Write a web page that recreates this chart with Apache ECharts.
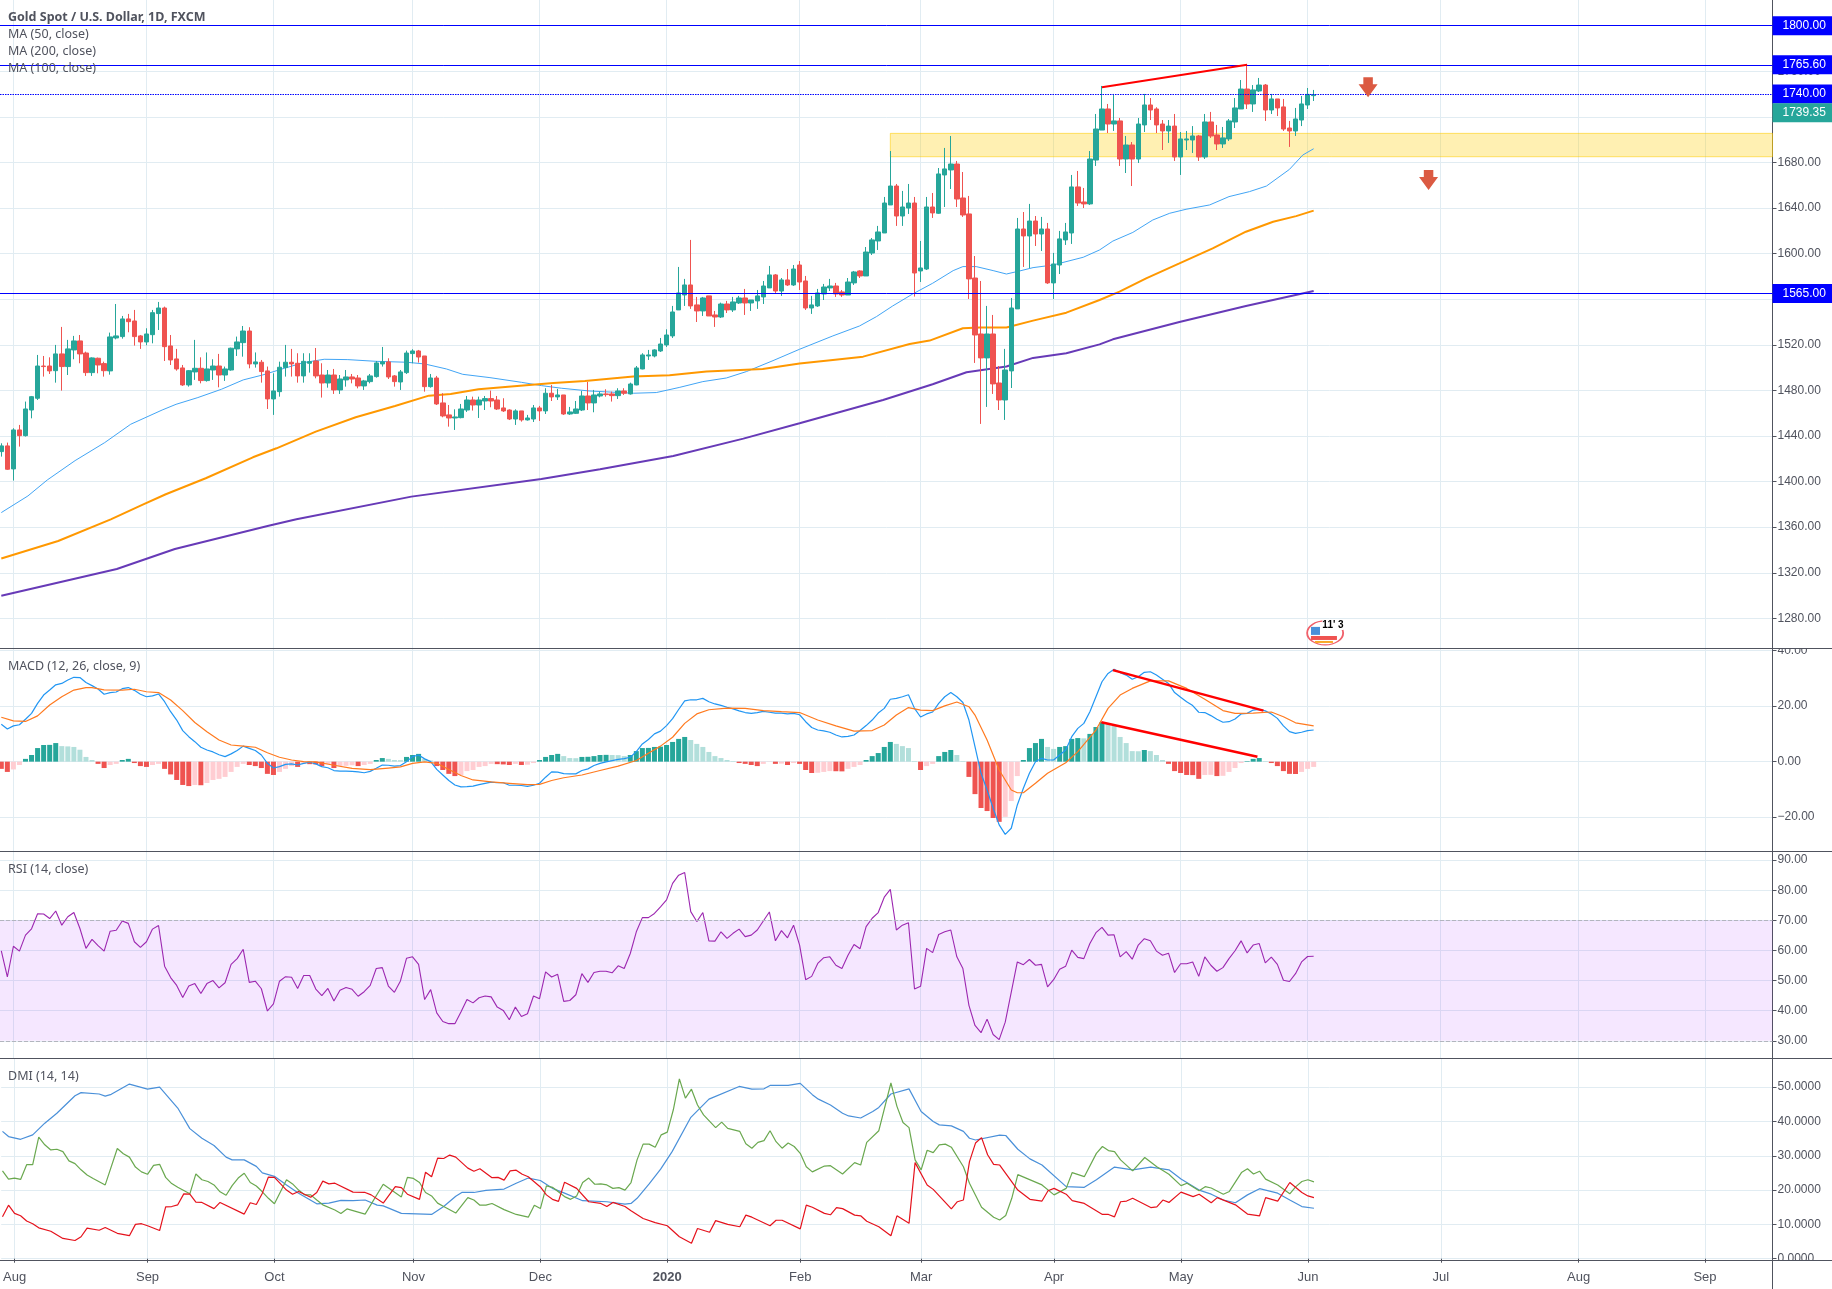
<!DOCTYPE html>
<html>
<head>
<meta charset="utf-8">
<title>Gold Spot / U.S. Dollar</title>
<script src="https://cdn.jsdelivr.net/npm/echarts@6/dist/echarts.min.js"></script>
<style>
html, body { margin: 0; padding: 0; background: #fff; }
#chart { width: 1832px; height: 1289px; }
</style>
</head>
<body>
<div id="chart"></div>
<script>
// x runs in trading bars: bar 0 is the first candle, bar 217 the last (2 Jun)
const monthTicks = [2, 24, 45, 68, 89, 110, 132, 152, 174, 195, 216, 238, 260.8, 281.7];
const monthNames = ['Aug', 'Sep', 'Oct', 'Nov', 'Dec', '2020', 'Feb', 'Mar', 'Apr', 'May', 'Jun', 'Jul', 'Aug', 'Sep'];

const priceTicks = [1280, 1320, 1360, 1400, 1440, 1480, 1520, 1560, 1600, 1640, 1680, 1720, 1760, 1800];
const macdTicks = [-20, 0, 20, 40];
const rsiTicks = [30, 40, 50, 60, 70, 80, 90];
const dmiTicks = [0, 10, 20, 30, 40, 50];

// open, close, low, high
const candles = [
[1426.3,1431.3,1421.9,1433.6],[1431.3,1410.8,1410.2,1434.2],[1411.1,1445.3,1400.9,1446.8],[1445.3,1440.3,1430.7,1449.7],[1440.3,1463.7,1439.5,1470.2],
[1462.8,1474.5,1455.5,1475.1],[1473.1,1501.4,1471.6,1511.1],[1501.4,1500.9,1492.1,1510.2],[1501.4,1497.1,1494.4,1509.0],[1497.3,1512.0,1486.8,1519.9],
[1512.0,1500.9,1479.8,1535.7],[1500.9,1516.4,1493.5,1524.3],[1515.5,1523.4,1507.3,1527.8],[1523.4,1512.0,1503.8,1528.6],[1512.8,1495.6,1492.7,1514.0],
[1495.6,1508.5,1492.7,1509.0],[1508.2,1502.3,1495.0,1508.8],[1503.5,1497.3,1492.1,1505.2],[1497.1,1526.9,1493.8,1530.7],[1526.0,1527.8,1524.8,1555.8],
[1527.2,1542.7,1525.4,1545.3],[1542.7,1540.3,1531.0,1547.1],[1540.9,1527.2,1519.3,1550.6],[1527.8,1522.5,1516.4,1528.6],[1522.5,1529.5,1519.6,1534.5],
[1528.9,1548.2,1521.3,1550.6],[1547.4,1552.3,1533.0,1557.6],[1552.3,1518.4,1505.8,1553.5],[1519.0,1506.7,1502.3,1528.6],[1507.6,1498.8,1497.3,1516.4],
[1499.7,1484.8,1483.9,1502.3],[1484.8,1497.3,1483.3,1497.9],[1496.2,1499.4,1489.2,1524.3],[1499.4,1488.6,1486.2,1509.0],[1488.6,1498.8,1487.7,1513.3],
[1497.9,1501.4,1489.2,1507.3],[1501.4,1493.5,1482.7,1512.0],[1493.5,1498.8,1488.3,1500.9],[1497.9,1517.0,1497.3,1517.5],[1516.4,1522.5,1510.2,1527.2],
[1521.9,1532.1,1509.6,1536.5],[1532.1,1503.2,1499.4,1535.4],[1503.2,1505.0,1500.0,1513.3],[1504.7,1496.5,1486.8,1506.7],[1497.1,1472.5,1463.7,1500.9],
[1472.5,1479.5,1458.5,1495.0],[1478.9,1500.3,1474.5,1505.2],[1500.0,1504.7,1492.1,1519.9],[1504.7,1503.2,1492.1,1516.4],[1503.8,1492.7,1486.8,1512.6],
[1492.7,1505.5,1486.8,1512.6],[1503.8,1505.2,1495.6,1512.6],[1505.8,1492.7,1490.6,1517.2],[1493.5,1486.5,1473.7,1503.8],[1486.5,1493.5,1482.4,1497.9],
[1493.5,1480.4,1476.9,1498.8],[1480.4,1490.0,1476.9,1493.5],[1489.2,1491.8,1483.3,1497.9],[1491.8,1490.0,1486.2,1494.4],[1490.9,1483.9,1481.8,1493.5],
[1483.9,1488.3,1480.4,1489.2],[1487.7,1492.7,1486.2,1494.4],[1492.1,1504.1,1491.2,1505.8],[1503.2,1505.0,1500.9,1518.1],[1505.0,1491.8,1490.0,1508.2],
[1492.7,1487.7,1483.3,1493.5],[1487.4,1496.2,1480.4,1497.9],[1495.6,1512.8,1494.4,1514.9],[1512.3,1514.6,1503.8,1516.1],[1514.6,1509.3,1504.4,1515.5],
[1510.2,1483.3,1478.9,1510.2],[1483.3,1490.9,1482.4,1494.4],[1490.9,1468.1,1467.2,1492.7],[1469.0,1457.6,1456.4,1477.5],[1458.5,1455.8,1448.2,1467.2],
[1455.8,1456.7,1445.3,1463.4],[1456.1,1463.7,1455.5,1468.1],[1462.8,1471.6,1461.1,1475.1],[1471.6,1467.2,1462.3,1474.5],[1467.2,1471.6,1455.8,1474.5],
[1470.7,1472.8,1462.8,1475.1],[1472.8,1470.7,1465.2,1479.8],[1471.6,1463.7,1462.8,1475.1],[1464.6,1462.0,1461.1,1473.1],[1462.8,1454.9,1454.0,1463.4],
[1454.9,1462.0,1449.7,1463.4],[1462.0,1454.1,1452.6,1462.0],[1454.1,1455.8,1453.5,1458.5],[1454.9,1464.6,1452.3,1467.2],[1464.6,1462.0,1453.2,1466.4],
[1462.0,1477.5,1459.3,1481.9],[1477.5,1474.3,1470.7,1484.8],[1474.3,1476.0,1471.6,1481.3],[1476.0,1459.3,1458.5,1476.0],[1459.3,1461.1,1458.5,1465.5],
[1459.9,1463.7,1459.3,1470.7],[1462.8,1475.1,1461.9,1479.5],[1475.1,1469.0,1462.8,1487.4],[1469.0,1476.0,1460.8,1480.4],[1475.1,1476.9,1473.9,1478.9],
[1476.9,1476.3,1474.5,1481.0],[1476.9,1475.4,1470.2,1478.9],[1475.4,1479.5,1472.5,1481.9],[1479.5,1477.5,1476.0,1481.9],[1476.9,1485.6,1476.3,1486.8],
[1484.8,1499.7,1484.5,1501.4],[1498.8,1511.1,1498.5,1512.6],[1510.2,1511.1,1506.7,1515.5],[1510.2,1515.5,1509.0,1516.1],[1514.6,1520.7,1513.7,1526.0],
[1519.9,1528.6,1518.1,1533.6],[1527.8,1548.8,1526.0,1554.1],[1550.6,1565.5,1550.6,1588.3],[1563.7,1572.5,1554.1,1577.8],[1572.5,1554.1,1551.5,1612.0],
[1555.0,1549.7,1540.0,1562.0],[1549.7,1561.1,1545.3,1562.0],[1562.9,1545.3,1545.3,1562.9],[1546.2,1544.4,1535.7,1549.7],[1544.4,1555.8,1543.5,1557.0],
[1555.8,1550.6,1547.9,1558.5],[1550.6,1557.6,1548.8,1562.0],[1556.7,1561.1,1555.8,1562.9],[1561.1,1556.7,1546.2,1569.0],[1556.7,1559.3,1549.7,1559.3],
[1558.5,1562.9,1551.5,1568.1],[1562.0,1571.6,1555.8,1576.0],[1569.9,1581.3,1569.9,1589.2],[1581.3,1567.2,1565.5,1582.1],[1567.2,1576.9,1562.9,1578.6],
[1576.9,1572.5,1571.6,1586.5],[1572.5,1586.5,1571.6,1590.0],[1590.0,1575.1,1568.1,1593.5],[1576.0,1552.3,1550.6,1580.4],[1552.3,1555.0,1547.1,1562.9],
[1554.1,1565.5,1553.2,1569.0],[1564.6,1570.7,1559.3,1573.4],[1569.9,1571.6,1567.2,1577.8],[1571.6,1564.6,1562.0,1574.3],[1566.4,1563.7,1562.0,1568.1],
[1563.7,1575.1,1563.7,1578.6],[1574.3,1583.9,1572.5,1584.8],[1584.8,1580.4,1578.6,1585.4],[1580.4,1601.4,1580.4,1605.8],[1600.5,1612.0,1598.8,1613.7],
[1611.1,1619.0,1603.2,1624.3],[1618.1,1644.4,1618.1,1649.7],[1642.7,1659.3,1642.7,1690.0],[1659.3,1633.0,1624.3,1661.1],[1633.0,1640.9,1624.3,1655.0],
[1640.0,1644.4,1634.8,1661.1],[1644.4,1583.0,1562.3,1649.7],[1584.8,1587.4,1575.1,1611.1],[1586.5,1640.9,1585.6,1649.7],[1640.9,1635.7,1631.3,1653.2],
[1635.4,1669.9,1634.8,1675.1],[1669.0,1674.3,1640.9,1692.7],[1673.4,1678.6,1656.7,1703.2],[1678.6,1647.9,1640.9,1681.3],[1648.8,1633.9,1632.2,1671.6],
[1634.8,1577.8,1560.2,1650.6],[1578.6,1528.6,1504.1,1597.9],[1529.5,1508.5,1450.6,1576.0],[1508.5,1529.5,1465.5,1554.1],[1529.5,1485.7,1476.9,1546.2],
[1486.5,1471.6,1462.8,1501.4],[1471.6,1497.9,1454.1,1516.4],[1497.1,1552.3,1482.1,1561.1],[1551.5,1621.6,1551.5,1631.3],[1621.6,1615.5,1588.3,1636.5],
[1615.5,1628.6,1587.4,1643.6],[1628.6,1617.2,1606.7,1633.0],[1617.2,1621.6,1602.3,1632.2],[1621.6,1574.3,1573.4,1626.9],[1574.3,1590.9,1560.2,1600.6],
[1590.0,1612.9,1582.1,1619.9],[1612.0,1619.0,1607.6,1626.9],[1618.1,1658.5,1608.5,1669.0],[1658.5,1644.4,1641.8,1672.5],[1645.3,1643.6,1640.0,1657.6],
[1643.6,1683.0,1642.7,1690.0],[1682.1,1709.3,1676.9,1722.5],[1708.4,1726.9,1708.4,1747.1],[1726.9,1713.7,1705.8,1731.3],[1713.7,1716.4,1707.6,1740.1],
[1716.4,1683.0,1676.9,1719.0],[1683.0,1695.3,1670.7,1703.2],[1695.3,1683.0,1659.3,1697.9],[1683.0,1713.7,1679.5,1719.0],[1712.9,1730.4,1706.7,1740.1],
[1730.4,1726.0,1717.2,1736.5],[1726.9,1712.9,1705.8,1728.4],[1713.7,1707.6,1690.9,1717.2],[1707.6,1711.9,1697.1,1717.2],[1711.9,1684.8,1681.3,1722.5],
[1684.8,1700.6,1669.0,1706.7],[1699.7,1700.6,1690.9,1707.6],[1699.7,1703.2,1688.3,1711.9],[1703.2,1684.8,1681.3,1704.1],[1684.8,1715.5,1683.0,1722.5],
[1715.5,1703.2,1701.5,1724.3],[1704.1,1696.2,1690.9,1712.9],[1696.2,1701.5,1692.7,1711.1],[1700.6,1716.4,1698.8,1718.1],[1715.5,1727.8,1710.2,1736.5],
[1726.9,1744.4,1726.9,1752.3],[1744.4,1731.3,1726.9,1765.6],[1731.3,1743.6,1724.3,1747.9],[1742.7,1747.9,1741.8,1754.1],[1747.9,1726.0,1716.4,1748.8],
[1726.0,1735.7,1722.5,1740.1],[1735.7,1727.8,1720.7,1735.7],[1728.7,1709.3,1707.6,1735.7],[1710.2,1707.6,1693.6,1716.4],[1707.6,1718.1,1703.2,1727.8],
[1717.2,1731.3,1711.9,1738.3],[1730.4,1739.7,1726.9,1745.3],[1738.6,1739.35,1733.9,1743.6]
];

// moving averages as [bar, value]
const ma50 = [[0,1372.8],[4.4,1387.4],[7.6,1401.4],[12.2,1418.4],[17.1,1434.2],[21.4,1450.3],[26.6,1462.8],[28.9,1467.8],[32.5,1473.7],[36.4,1481],[40,1489.2],[43.2,1493.5],[46.8,1499.4],[50,1504.4],[53.4,1507.3],[57.3,1507],[62,1505.5],[67,1504.7],[70,1503.2],[73.6,1498.8],[76.3,1494.1],[80.8,1491.2],[86,1487.1],[89.3,1484.2],[92.6,1481.9],[97.2,1479.5],[104.5,1477.5],[108.3,1478.1],[112.2,1482.7],[116,1487.7],[119.9,1490.9],[123.2,1496.5],[127.6,1506.1],[132,1516.1],[137.5,1527.8],[141.9,1536.5],[144.7,1544.7],[147.4,1554.1],[150.7,1564.6],[154,1574],[157.4,1585.1],[159,1588.6],[161.2,1588.6],[164,1585.1],[166.2,1582.1],[168.4,1584.8],[170.6,1587.7],[173.9,1590],[178.9,1596.8],[181.6,1603.2],[183.8,1611],[187.1,1618.6],[190.4,1629.5],[193.2,1635.4],[195.9,1638.9],[199.8,1642.7],[203,1650],[206.4,1654.4],[209.2,1659.3],[213,1673.9],[215.2,1686.5],[217,1692]];
const ma100 = [[0,1332.5],[9.4,1347.9],[18.1,1366.9],[23.3,1379.5],[27.2,1388.9],[33.8,1402.9],[41.6,1421.3],[45.5,1429.2],[52,1443.8],[58.6,1456.4],[65.1,1466.3],[70.7,1475.4],[74.3,1476.9],[78.9,1481],[84.8,1483.6],[91.3,1486.5],[96.5,1488.3],[104.5,1492.1],[110.5,1493.3],[116.6,1496.5],[125.9,1498.8],[132,1503.5],[137.5,1506.7],[142.5,1509.6],[150.2,1520.7],[153.5,1523.7],[159,1534.5],[161.8,1535.1],[166.2,1535.1],[170.6,1541.2],[176.1,1548.2],[181.6,1559.3],[184.9,1566.6],[189.3,1578.3],[194.8,1591.4],[200.3,1604.6],[205.8,1619.2],[210.3,1628],[214.1,1632.9],[217,1637.7]];
const ma200 = [[0,1299.9],[19.1,1323.3],[28.7,1340.9],[44.2,1361.3],[48.8,1366.9],[67.8,1386.8],[89.3,1402.3],[99,1410.8],[111.1,1422.5],[122.7,1437.7],[132,1451.1],[145.8,1471.6],[154,1485.4],[159.6,1495.9],[166.2,1500.9],[170.6,1508.5],[176.1,1512.6],[181.6,1520.4],[183.8,1524.8],[194.8,1540],[205.8,1554.1],[217,1567.2]];

const macdLine = [
13.5,11.8,12.9,13.3,15.3,17.4,21,24,25.8,27.7,28.2,29.4,30.4,30.3,28.5,27.4,26.2,24.3,24.9,25.1,
26.3,26.7,25.7,24.3,23.4,23.7,24.4,21.6,18,15,11.2,9,7.2,5.2,4.2,3.5,2.5,1.8,2.8,4,
5.6,4.8,4,2.4,-0.6,-2.3,-1.8,-1,-0.8,-1.2,-0.6,-0.2,-0.8,-1.8,-2.2,-3.2,-3.4,-3.4,-3.5,-3.7,
-4,-3.5,-2.4,-1.2,-1.3,-1.6,-1.4,0,1.8,2.4,1,0,-2.8,-4.8,-6.8,-8.4,-9.1,-9,-8.8,-8.3,
-7.8,-7.4,-7.6,-7.6,-8.5,-8.5,-8.6,-8.9,-8.5,-7.8,-5.6,-3.7,-3.8,-4.3,-4.4,-4.4,-3.2,-2.6,-1.4,-0.6,
-0.1,0.4,0.8,1.1,1.6,3.6,6.4,8,10,11,13,15.5,18.8,21.9,22.3,22.3,22.8,21.6,20.8,20.3,
19.6,19,18.3,17.7,17.4,17.7,18.1,17.8,17.5,17.5,17.2,17.4,16.9,14.4,12.3,11.4,11.1,10.6,9.6,8.9,
9.1,9.6,11.2,13,15,17.5,19.2,22.5,22.8,23.4,24.1,19.2,16.1,17.2,17.9,21,23.4,24.9,23.4,21.3,
15,5.4,-4.2,-10.2,-16.8,-22.8,-26.2,-24,-15.6,-9.6,-4.2,0,1.2,0.6,0.6,2.4,4.2,9,12,13.8,
18,23.4,28.8,31.8,33.3,32.1,31.2,29.7,30.6,32.2,32.4,31.2,29.7,28.2,24.9,23.2,21.6,20.2,17.8,17.7,
16.6,15.3,14.2,14.4,15.4,17.2,17.4,18.6,18.8,18.3,17.2,15.6,12.9,10.8,10.2,10.6,11.2,11.4
];
const signalLine = [[0,16],[2,14.7],[4,14.5],[6,16.5],[8,20.4],[10,23.4],[12,25.8],[14,26.7],[15,26.7],[17,25.9],[20,25.8],[22,26.1],[24,25.2],[26,24.9],[28,22.2],[30,18.4],[32,14.1],[34,10.8],[36,7.8],[38,6],[40,5.6],[42,5.2],[44,3.2],[46,1.6],[48,0.6],[50,0],[52,-0.1],[55,-1.3],[58,-2.4],[61,-2.9],[64,-2.3],[66,-1.9],[68,-0.6],[70,-0.1],[72,-0.6],[74,-2.8],[76,-5],[78,-6.6],[81,-7.3],[84,-7.8],[87,-8.3],[89,-8.2],[91,-6.8],[93,-5.8],[96,-4.8],[99,-3.2],[102,-1.6],[105,0.4],[107,3],[109,5.6],[111,8.8],[113,13.8],[115,17.2],[117,18.7],[120,19.3],[123,19.2],[126,18.4],[129,18],[132,17.7],[135,15],[138,12.9],[141,11],[144,11.2],[146,13.2],[148,16.8],[150,19.5],[152,18.6],[154,18.4],[156,20.1],[158,21.5],[160,19.8],[161,16.8],[163,7.8],[165,-3],[167,-10.2],[168,-11.2],[169,-11.2],[171,-7.8],[173,-4.2],[176,-0.4],[178,3.6],[181,11.4],[183,19.2],[185,24],[187,26.4],[190,29.1],[193,29.1],[196,26.4],[199,22.5],[202,18.4],[204,17.4],[207,17.5],[210,17.9],[212,16.2],[214,14],[217,12.9]];
const macdHist = [
-2.6,-3.7,-2.8,-1.2,1.0,2.4,4.9,6.0,6.05,6.7,
5.6,5.5,5.3,4.3,1.7,0.6,-0.8,-2.3,-1.2,-0.8,
0.6,1.0,-0.5,-1.6,-1.9,-1.2,-0.8,-2.6,-4.6,-6.6,
-8.4,-8.8,-8.4,-8.5,-7.7,-6.6,-6.2,-5.5,-3.7,-1.9,
-0.8,-1.2,-1.6,-2.3,-4.4,-4.8,-3.7,-2.6,-1.6,-1.9,
-0.8,-0.9,-1.0,-1.6,-0.8,-2.3,-1.6,-1.5,-1.3,-1.6,
-1.2,-0.8,0.6,1.3,1.0,0.6,0.55,1.7,2.4,2.8,
1.0,0.4,-1.6,-3.0,-4.4,-5.2,-4.8,-3.4,-3.0,-1.9,
-1.6,-0.8,-0.9,-1.0,-1.2,-0.8,-1.2,-1.1,-0.5,0.6,
1.7,2.4,2.8,2.0,1.3,1.25,1.7,1.75,2.0,2.4,
2.45,2.4,2.35,2.0,2.4,3.8,4.9,4.95,5.3,5.4,
6.0,7.1,8.2,8.9,7.8,6.4,5.3,3.5,2.0,1.3,
0.6,0.2,-0.5,-0.8,-1.2,-1.6,-0.8,-0.1,-0.8,-0.7,
-1.2,-0.5,-0.8,-3.0,-4.1,-4.0,-3.7,-3.4,-3.45,-3.5,
-2.6,-1.9,-1.2,0.6,2.0,3.1,5.3,7.1,6.4,5.6,
4.9,0.2,-3.0,-1.6,-0.8,2.0,3.5,4.2,2.4,0.2,
-5.5,-11.7,-16.7,-17.8,-20.3,-21.7,-19.9,-14.2,-5.2,0.6,
4.9,6.7,8.2,5.3,4.6,5.3,5.6,8.2,8.5,8.4,
10,12.5,14.3,13.6,12.9,8.9,6.7,3.8,3.75,4.2,
3.8,2.4,0.6,-0.8,-3.4,-4.1,-4.8,-4.85,-6.2,-4.8,
-4.75,-5.2,-5.1,-3.7,-2.3,-0.5,0.2,1.0,1.3,0.2,
-0.5,-1.6,-3.4,-4.4,-4.45,-3.7,-2.6,-1.9
];

const rsi = [
59.9,51.2,61.4,59.8,65.1,67.2,72.2,72.1,70.6,73.1,68.4,71.2,72.6,67.3,60.7,63.7,61.6,59.8,66.4,66.7,
69.8,69,62.9,61,62.9,67.1,68.3,54.8,51,48.4,44.4,48.2,49,45.7,49,50,47.6,49.3,55.4,57.3,
60.4,49.4,49.8,47.3,39.9,42.3,49.8,51.3,51.1,47.4,51.7,51.7,47.2,45,47.4,43.2,46.8,47.7,47.1,44.8,
46.3,48.4,54,54.3,48.2,46.1,49.9,57.4,57.9,55.4,43.7,47,39.3,36.4,35.7,35.7,39.6,43.7,42.6,44.3,
44.9,44.6,41.2,40.1,37,41.2,38.1,39,44.9,44,52.9,51.2,52.1,43.1,43.4,45.3,52.3,49.4,52.7,53.1,
53.1,52.6,54.9,54,59,66.2,70.9,70.9,72.3,74.5,76.8,82.3,85,85.9,72.9,69.6,72.6,63.2,63.1,66.2,
64,65.7,67.1,64.6,65.1,66.8,69.8,72.8,63.2,66.6,64.2,68.4,61.8,50.3,51.4,55.7,57.6,57.9,55.1,54,
58.4,62,60.6,67.9,70.7,72.6,77.7,80.3,66.8,68.4,69.2,47.2,48.1,60.7,59.3,65.3,66.2,66.8,57.9,54,
41.8,35.1,32.7,37.2,32.1,30.4,36.2,46.2,56.2,55.3,57,55.1,55.4,47.9,50.3,53.8,54.8,60.1,57.7,57.3,
62.3,65.9,67.7,65.1,65.2,57.9,59.6,57.1,61.8,63.9,63.2,59.8,58.4,59.1,52.7,55.6,55.6,56.2,51.4,57.9,
55.1,53.1,54.3,57.3,59.9,63.2,59.2,61.8,62.3,55.9,57.8,55.4,50.1,49.7,52.3,56.2,58,58.1
];

// DMI lines as [bar, value]
const dmiBlue = [[0,37.1],[1,35.6],[3,34.8],[5,36.1],[7,39.5],[9,42.4],[12,47.5],[13,48.4],[16,48],[17,47.4],[18,47.9],[21,50.9],[24,49.4],[26,50],[29,43.9],[31,37.9],[33,35.1],[35,33],[37,29.6],[38,28.8],[40,28.8],[42,26.9],[43,25],[45,24],[47,21.5],[49,19.1],[52,16],[54,16.2],[56,17],[58,16.9],[60,17.1],[62,15.6],[63,15.4],[66,13.2],[71,12.9],[73,15.2],[75,18.2],[76,19.3],[78,19.3],[80,19.9],[83,20.3],[85,22],[87,23.5],[89,22.8],[91,20.5],[93,19.1],[96,16.9],[100,16.6],[103,15.9],[104,16.1],[105,17.6],[107,21.8],[108.9,26.1],[110.8,31.2],[113.9,41.2],[116.9,46.5],[121.9,50.2],[124,49.4],[126,49.5],[127,50.5],[130,50.5],[132,51.1],[134,47.8],[135,46.5],[137,44.8],[139,42.4],[140,41.6],[142,41],[144,42.9],[145,44.1],[147,48],[150,49.5],[152,42.9],[154,40],[155,39],[157,38.7],[159,37.1],[160,35.1],[161,34.6],[165,36],[166,35.9],[168,31.9],[170,29.1],[172,27.3],[176,21],[179,20.8],[181,23],[184,26.7],[187,25.9],[190,26.7],[193,25.9],[195,23.2],[198,20],[200,18.8],[202,17.1],[204,16.3],[206,18.6],[208,20.4],[211,19.1],[213,17.1],[215,15.2],[217,14.7]];
const dmiGreen = [[0,25.6],[1,23.2],[2,23.5],[3,23.1],[4,27.4],[5,27.4],[6,35.4],[7,33.2],[8,31.7],[9,31.9],[10,31.2],[11,28.5],[12,27.7],[13,25.9],[14,24.4],[15,23.4],[17,21.5],[19,32.1],[20,30.6],[21,29.6],[22,26.7],[23,25.3],[24,24.6],[25,27.2],[26,27.5],[27,23.7],[28,21.9],[29,20.8],[31,18.9],[32,24.7],[33,23],[34,22.5],[35,21.5],[36,19.5],[37,18.5],[38,21.3],[39,23.5],[40,24.9],[41,22.2],[42,21.2],[43,19.5],[44,17.6],[45,16],[46,19.5],[47,23],[48,21.8],[49,20],[50,18.6],[51,18.6],[52,17.1],[53,15.7],[55,14.2],[56,13.2],[57,14.5],[60,13],[63,21.7],[66,18],[67,23.7],[68,23.4],[69,22.2],[70,19.3],[71,18.3],[72,16.2],[73,15.2],[75,13.3],[77,17.8],[78,17.1],[79,15.6],[80,15.6],[81,16.1],[83,14.3],[85,12.9],[87,12.1],[88,15.6],[89,14.6],[90,21.2],[91,20.8],[93,18.1],[94,17.3],[95,18.3],[96,22.2],[97,23.5],[98,21.7],[99,21.8],[100,21.5],[101,20.5],[102,20.7],[103,20],[104,22.2],[105,28.8],[106,33.4],[107,33.4],[108,32.5],[109,36.1],[110,36.9],[111,43.4],[112,52.4],[113,46.8],[114,49.4],[115,44.8],[116,41.9],[118,38.2],[119,39.8],[120,38],[122,37.1],[123,33.5],[124,32.2],[125,33.9],[126,34.4],[127,37.3],[128,34.1],[129,32.2],[130,33.7],[131,32.7],[132,30.7],[133,26.8],[134,25.3],[136,27],[137,27.1],[139,24.7],[141,28],[142,27.3],[143,33.9],[145,37.3],[147,51.2],[148,44.4],[149,39.7],[150,38.2],[151,28.8],[152,25.9],[153,31.6],[154,30.9],[155,33.2],[156,33.4],[157,32.5],[159,26.8],[160,22],[162,15],[164,12.1],[165,11.3],[166,12.6],[167,17.6],[168,24.5],[172,21.5],[174,18.6],[176,20.5],[177,25.1],[179,23.9],[181,30.7],[182,32.7],[183,31.5],[184,31.2],[185,28.8],[187,25.6],[189,29.5],[191,26.8],[193,24.6],[195,21.3],[196,22],[198,19.8],[199,21],[200,20.6],[202,18.8],[203,19.6],[205,25.1],[206,26.2],[207,24.7],[208,25.5],[209,23.2],[211,21.5],[213,18.9],[214,21],[215,22.5],[216,23],[217,22.4]];
const dmiRed = [[0,12.2],[1,15.6],[2,13.2],[3,12.5],[4,11],[5,10.2],[6,9],[8,8],[10,5.9],[12,5.3],[13,6.4],[14,8.9],[16,8.3],[17,9.1],[19,7.4],[21,6.7],[22,10],[23,10.2],[24,9.6],[26,8.2],[27,15.1],[28,15.2],[29,15.7],[30,18.9],[31,18.8],[32,16.5],[33,16.4],[35,14.6],[36,16.4],[40,13],[41,16.3],[42,15.8],[43,19.1],[44,23.8],[45,23.7],[47,20],[48,18.8],[49,19.6],[51,17.9],[52,19.3],[53,22.6],[54,21.8],[55,22],[58,19.4],[60,19.3],[61,18.6],[63,16.2],[65,21],[66,20.7],[67,18.8],[69,17.3],[70,25.2],[71,23.9],[72,29.3],[73,29.2],[74,30.2],[75,29.6],[77,26.4],[78,25.5],[79,26.2],[81,23.6],[82,23.7],[83,22.9],[84,25.6],[85,25.8],[86,24.6],[87,23.9],[89,20.9],[90,18.6],[91,17.3],[92,16.7],[93,22.3],[95,20.5],[97,16.6],[99,16.1],[100,15.2],[101,16.4],[103,15.2],[104,14],[106,11.7],[108,10.5],[110,9.6],[112,6.4],[114,4.5],[115,8.8],[117,7.7],[118,11.1],[120,10],[122,9.3],[123,12.7],[124,12.1],[127,9.6],[128,11.2],[129,11.2],[132,8.7],[133,15.6],[134,15],[136,13.2],[137,12.8],[138,14.9],[139,14.6],[141,12.7],[142,12.5],[143,10.9],[145,9.3],[147,6.7],[148,12.5],[150,10.3],[151,28],[153,21.5],[154,20.2],[157,14.5],[158,16.6],[159,17.1],[160,28.3],[161,33.7],[162,35.3],[163,30.3],[164,27.5],[165,27.3],[168,20],[170,17.3],[172,16.8],[173,19.8],[174,20.5],[176,18.8],[177,16.9],[179,16.1],[182,12.9],[183,12.9],[184,12.2],[185,16.6],[186,16.8],[187,17.6],[190,14.9],[191,15.1],[192,17.1],[193,16.4],[195,19.4],[197,18.1],[198,18.8],[200,16.3],[201,17.8],[204,15.7],[206,13],[208,12.5],[209,17.8],[211,16.8],[213,22.2],[215,19.3],[216,18.3],[217,17.8]];

const levelLines = [1800, 1765.6, 1565];
const lastLine = 1740;
const lastClose = 1739.35;

const textColor = '#50535e';
const gridColor = '#e1ecf2';
const upColor = '#26a69a';
const downColor = '#ef5350';
const tagBlue = '#0000ff';
const labelFont = 'Liberation Sans';
const legendFont = 'Noto Sans';

const xMin = -0.215;
const xMax = 292.87;

const arrowPath = 'path://M5 0L15 0L15 7L20 7L10 20L0 7L5 7Z';

function tagLabel(bg, text, dy) {
    return {
        show: true,
        position: 'end',
        distance: 0,
        offset: [0, dy || 0],
        opacity: 1,
        formatter: text,
        color: '#fff',
        fontFamily: labelFont,
        fontSize: 12,
        backgroundColor: bg,
        padding: [5, 9, 2, 10]
    };
}

function xAxisFor(index, bottom) {
    return {
        type: 'value',
        gridIndex: index,
        min: xMin,
        max: xMax,
        axisLine: { show: false },
        axisTick: { show: bottom, length: 4, customValues: monthTicks, lineStyle: { color: textColor } },
        axisLabel: {
            show: bottom,
            customValues: monthTicks,
            margin: 11,
            color: textColor,
            fontFamily: labelFont,
            fontSize: 13,
            hideOverlap: false,
            formatter: function (v) {
                var name = monthNames[monthTicks.indexOf(v)];
                return name === '2020' ? '{b|2020}' : name;
            },
            rich: { b: { fontWeight: 'bold', color: textColor, fontFamily: labelFont, fontSize: 13 } }
        },
        splitLine: { show: true, lineStyle: { color: gridColor, width: 1 } }
    };
}

function yAxisFor(index, min, max, ticks, digits) {
    return {
        type: 'value',
        gridIndex: index,
        position: 'right',
        min: min,
        max: max,
        scale: true,
        axisLine: { show: true, onZero: false, lineStyle: { color: textColor } },
        axisTick: { show: true, length: 4, customValues: ticks, lineStyle: { color: textColor } },
        axisLabel: {
            customValues: ticks,
            margin: 5,
            padding: [2, 0, 0, 0],
            color: textColor,
            fontFamily: labelFont,
            fontSize: 12,
            formatter: function (v) {
                return (v < 0 ? '\u2212' : '') + Math.abs(v).toFixed(digits);
            }
        },
        splitLine: { show: true, lineStyle: { color: gridColor, width: 1 } }
    };
}

function lineSeries(name, data, color, width, axis) {
    return {
        name: name,
        type: 'line',
        xAxisIndex: axis,
        yAxisIndex: axis,
        data: data,
        showSymbol: false,
        symbol: 'none',
        lineStyle: { color: color, width: width },
        itemStyle: { color: color },
        silent: true,
        z: 3
    };
}

function histColor(i) {
    var v = macdHist[i];
    var prev = i > 0 ? macdHist[i - 1] : v;
    if (v >= 0) {
        return v >= prev ? '#26a69a' : '#b2dfdb';
    }
    return v <= prev ? '#ef5350' : '#ffcdd2';
}

function legendText(text, y, bold) {
    return {
        type: 'text',
        z: 100,
        style: {
            x: 8,
            y: y,
            text: text,
            fill: textColor,
            fontFamily: legendFont,
            fontSize: 12.5,
            fontWeight: bold ? 'bold' : 'normal',
            verticalAlign: 'middle'
        }
    };
}

function ruleLine(x1, y1, x2, y2) {
    return {
        type: 'line',
        z: 100,
        shape: { x1: x1, y1: y1, x2: x2, y2: y2 },
        style: { stroke: textColor, lineWidth: 1 }
    };
}

function coverRect(y, h) {
    return { type: 'rect', z: 99, shape: { x: 1773, y: y, width: 59, height: h }, style: { fill: '#fff' } };
}

function getChart() {
    var instance = echarts.init(document.getElementById('chart'));

    var option = {
        animation: false,
        backgroundColor: '#fff',
        grid: [
            { left: 0, top: 0, width: 1772.5, height: 648 },
            { left: 0, top: 649, width: 1772.5, height: 202 },
            { left: 0, top: 852, width: 1772.5, height: 206 },
            { left: 0, top: 1059, width: 1772.5, height: 201 }
        ],
        xAxis: [xAxisFor(0, false), xAxisFor(1, false), xAxisFor(2, false), xAxisFor(3, true)],
        yAxis: [
            yAxisFor(0, 1254, 1822.5, priceTicks, 2),
            yAxisFor(1, -32.2, 40.6, macdTicks, 2),
            yAxisFor(2, 24.3, 92.7, rsiTicks, 2),
            yAxisFor(3, -0.38, 58.2, dmiTicks, 4)
        ],
        graphic: [
            legendText('Gold Spot / U.S. Dollar, 1D, FXCM', 17.5, true),
            legendText('MA (50, close)', 34.5),
            legendText('MA (200, close)', 51.5),
            legendText('MA (100, close)', 68.5),
            legendText('MACD (12, 26, close, 9)', 666.5),
            legendText('RSI (14, close)', 869),
            legendText('DMI (14, 14)', 1076.5),
            coverRect(636, 12),
            coverRect(1261, 10),
            ruleLine(0, 648.5, 1832, 648.5),
            ruleLine(0, 851.5, 1832, 851.5),
            ruleLine(0, 1058.5, 1832, 1058.5),
            ruleLine(0, 1260.5, 1832, 1260.5),
            ruleLine(1772.5, 1260, 1772.5, 1289)
        ],
        series: [
            lineSeries('MA 50', ma50, '#42a5f5', 1, 0),
            lineSeries('MA 100', ma100, '#ff9800', 2, 0),
            lineSeries('MA 200', ma200, '#673ab7', 2, 0),
            {
                name: 'XAUUSD',
                type: 'candlestick',
                xAxisIndex: 0,
                yAxisIndex: 0,
                barWidth: 5,
                silent: true,
                z: 4,
                data: candles.map(function (c, i) { return [i, c[0], c[1], c[2], c[3]]; }),
                encode: { x: 0, y: [1, 2, 3, 4] },
                itemStyle: {
                    color: upColor,
                    color0: downColor,
                    borderColor: upColor,
                    borderColor0: downColor,
                    borderWidth: 1
                },
                markArea: {
                    silent: true,
                    itemStyle: { color: 'rgba(255,204,0,0.3)', borderColor: 'rgba(255,204,0,0.55)', borderWidth: 1 },
                    data: [[{ coord: [147, 1705.5] }, { coord: [xMax, 1685] }]]
                },
                markLine: {
                    silent: true,
                    symbol: 'none',
                    animation: false,
                    label: { show: false },
                    data: levelLines.map(function (v) {
                        return { yAxis: v, lineStyle: { color: tagBlue, width: 1, type: 'solid' }, label: tagLabel(tagBlue, v.toFixed(2)) };
                    }).concat([
                        { yAxis: lastLine, lineStyle: { color: tagBlue, width: 1, type: [1.5, 1] }, label: tagLabel(tagBlue, lastLine.toFixed(2)) },
                        { yAxis: lastClose, lineStyle: { opacity: 0 }, label: tagLabel(upColor, lastClose.toFixed(2), 18) },
                        [
                            { coord: [182, 1746], lineStyle: { color: '#ff0000', width: 2, type: 'solid' } },
                            { coord: [206, 1765.6] }
                        ]
                    ])
                },
                markPoint: {
                    silent: true,
                    animation: false,
                    label: { show: false },
                    data: [
                        { coord: [226, 1746], symbol: arrowPath, symbolSize: [19, 20], itemStyle: { color: '#db5a42' } },
                        { coord: [236, 1664.6], symbol: arrowPath, symbolSize: [19, 20], itemStyle: { color: '#db5a42' } },
                        // economic event flag near the bottom of the price pane
                        { coord: [218.9, 1267.2], symbol: 'circle', symbolSize: [36, 24], itemStyle: { color: '#fff', borderColor: '#f0606a', borderWidth: 1.5 } },
                        { coord: [218.7, 1262.8], symbol: 'rect', symbolSize: [26, 4], itemStyle: { color: '#ef5350' } },
                        { coord: [218.7, 1259.3], symbol: 'rect', symbolSize: [18, 2], itemStyle: { color: '#f9a825' } },
                        { coord: [217.3, 1269], symbol: 'rect', symbolSize: [9, 8], itemStyle: { color: '#4a90d9' } },
                        {
                            coord: [220.2, 1274.2],
                            symbol: 'rect',
                            symbolSize: [1, 1],
                            itemStyle: { color: 'transparent' },
                            label: { show: true, position: 'inside', formatter: "11' 3", color: '#000', fontFamily: labelFont, fontSize: 10, fontWeight: 'bold', backgroundColor: '#fff' }
                        }
                    ]
                }
            },
            {
                name: 'Histogram',
                type: 'bar',
                xAxisIndex: 1,
                yAxisIndex: 1,
                barWidth: 5,
                silent: true,
                z: 2,
                data: macdHist.map(function (v, i) {
                    return { value: [i, v], itemStyle: { color: histColor(i) } };
                })
            },
            lineSeries('MACD', macdLine.map(function (v, i) { return [i, v]; }), '#2196f3', 1.2, 1),
            Object.assign(lineSeries('Signal', signalLine, '#ff7a1f', 1.2, 1), {
                markLine: {
                    silent: true,
                    symbol: 'none',
                    animation: false,
                    label: { show: false },
                    lineStyle: { color: '#ff0000', width: 2.5, type: 'solid' },
                    data: [
                        [{ coord: [183.8, 33] }, { coord: [208.7, 18.4] }],
                        [{ coord: [181.9, 14.2] }, { coord: [207.7, 1.8] }]
                    ]
                }
            }),
            Object.assign(lineSeries('RSI', rsi.map(function (v, i) { return [i, v]; }), '#9c27b0', 1.1, 2), {
                markArea: {
                    silent: true,
                    itemStyle: { color: 'rgba(153,21,255,0.1)' },
                    data: [[{ coord: [xMin, 70] }, { coord: [xMax, 30] }]]
                },
                markLine: {
                    silent: true,
                    symbol: 'none',
                    animation: false,
                    label: { show: false },
                    lineStyle: { color: '#b2b5be', width: 1, type: 'dashed' },
                    data: [{ yAxis: 70 }, { yAxis: 30 }]
                }
            }),
            lineSeries('ADX', dmiBlue, '#4a90d9', 1.2, 3),
            lineSeries('+DI', dmiGreen, '#6aa84f', 1.2, 3),
            lineSeries('-DI', dmiRed, '#e5121c', 1.2, 3)
        ]
    };

    instance.setOption(option);
}

getChart();
</script>
</body>
</html>
